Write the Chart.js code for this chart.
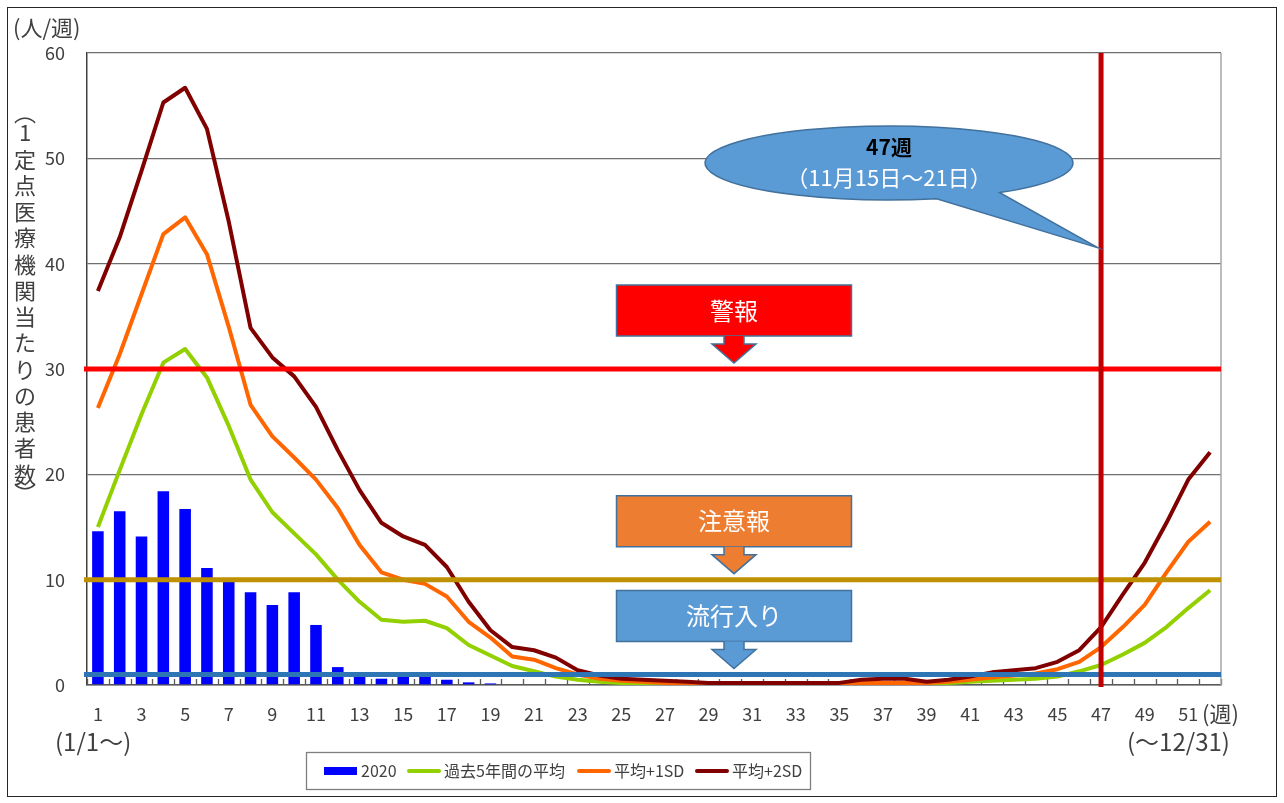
<!DOCTYPE html>
<html>
<head>
<meta charset="utf-8">
<script src="https://cdn.jsdelivr.net/npm/chart.js@4"></script>
<style>
  html, body { margin: 0; padding: 0; background: #fff; }
  #c { display: block; }
</style>
</head>
<body>
<canvas id="c" width="1284" height="803"></canvas>
<script>
// weeks 1..52
const weeks = Array.from({ length: 52 }, (_, i) => String(i + 1));

// 2020 weekly cases per sentinel (up to week 47)
const cases2020 = [14.6, 16.5, 14.1, 18.4, 16.7, 11.1, 9.9, 8.8, 7.6, 8.8,
  5.7, 1.7, 0.9, 0.6, 1.0, 1.0, 0.5, 0.25, 0.15, 0, 0, 0, 0, 0, 0, 0, 0, 0, 0, 0,
  0, 0, 0, 0, 0, 0, 0, 0, 0, 0, 0, 0, 0, 0, 0, 0, 0, null, null, null, null, null];

// past 5 year average
const avg5y = [15.0, 20.4, 25.7, 30.6, 31.9, 29.2, 24.6, 19.5, 16.4, 14.4,
  12.4, 10.0, 7.9, 6.2, 6.0, 6.1, 5.4, 3.8, 2.8, 1.8, 1.3, 0.8, 0.5, 0.3, 0.2,
  0.1, 0.1, 0.1, 0.1, 0.1, 0.1, 0.1, 0.1, 0.1, 0.1, 0.1, 0.1, 0.1, 0.1, 0.2,
  0.3, 0.4, 0.5, 0.6, 0.8, 1.3, 1.9, 2.9, 4.0, 5.5, 7.3, 9.0];

// average + 1SD
const avgPlus1 = [26.3, 31.4, 37.1, 42.8, 44.4, 40.9, 34.0, 26.6, 23.6, 21.6,
  19.5, 16.8, 13.3, 10.7, 10.0, 9.6, 8.4, 6.0, 4.5, 2.7, 2.4, 1.6, 1.0, 0.6, 0.4,
  0.3, 0.2, 0.2, 0.2, 0.2, 0.2, 0.2, 0.2, 0.2, 0.2, 0.2, 0.2, 0.2, 0.2, 0.3,
  0.5, 0.7, 0.9, 1.1, 1.5, 2.2, 3.6, 5.5, 7.6, 10.7, 13.6, 15.5];

// average + 2SD
const avgPlus2 = [37.4, 42.5, 48.8, 55.3, 56.7, 52.8, 44.0, 33.9, 31.1, 29.3,
  26.4, 22.3, 18.5, 15.4, 14.1, 13.3, 11.2, 7.9, 5.2, 3.6, 3.3, 2.6, 1.4, 0.9, 0.6,
  0.5, 0.4, 0.3, 0.2, 0.2, 0.2, 0.2, 0.2, 0.2, 0.2, 0.5, 0.6, 0.6, 0.3, 0.5,
  0.8, 1.2, 1.4, 1.6, 2.2, 3.3, 5.5, 8.6, 11.6, 15.4, 19.5, 22.1];

// thresholds
const alarmLevel = 30;     // 警報
const cautionLevel = 10;   // 注意報
const epidemicLevel = 1;   // 流行入り
const currentWeek = '47';

const FONT = '"Noto Sans CJK JP", "Noto Sans", sans-serif';
const TXT = '#404040';

const overlay = {
  id: 'overlay',
  beforeDatasetsDraw(chart) {
    const { ctx, chartArea: a, scales: { x } } = chart;
    ctx.save();
    // small inner tick marks between categories
    ctx.strokeStyle = '#595959';
    ctx.lineWidth = 1.3;
    for (let i = 0; i <= weeks.length; i++) {
      const px = i === 0 ? a.left :
        i === weeks.length ? a.right :
        (x.getPixelForValue(i - 1) + x.getPixelForValue(i)) / 2;
      ctx.beginPath();
      ctx.moveTo(Math.round(px) + 0.5, a.bottom);
      ctx.lineTo(Math.round(px) + 0.5, a.bottom - 6);
      ctx.stroke();
    }
    ctx.restore();
  },
  afterDatasetsDraw(chart) {
    const { ctx, chartArea: a, scales: { x, y } } = chart;
    ctx.save();
    // right border of plot
    ctx.strokeStyle = '#a6a6a6';
    ctx.lineWidth = 1.5;
    ctx.beginPath();
    ctx.moveTo(a.right, a.top);
    ctx.lineTo(a.right, a.bottom);
    ctx.stroke();

    // threshold lines
    const hline = (v, color) => {
      const py = y.getPixelForValue(v);
      ctx.strokeStyle = color;
      ctx.lineWidth = 5;
      ctx.beginPath();
      ctx.moveTo(a.left - 3, py);
      ctx.lineTo(a.right, py);
      ctx.stroke();
    };
    hline(alarmLevel, '#ff0000');
    hline(cautionLevel, '#bf9000');
    hline(epidemicLevel, '#2e75b6');

    // current week marker
    const wx = x.getPixelForValue(weeks.indexOf(currentWeek));
    ctx.strokeStyle = '#c00000';
    ctx.lineWidth = 5;
    ctx.beginPath();
    ctx.moveTo(wx, a.top);
    ctx.lineTo(wx, a.bottom + 2);
    ctx.stroke();

    // labelled boxes with down arrows
    const box = (v, fill, text) => {
      const py = y.getPixelForValue(v);
      const cx = 734, w = 235;
      const bottom = py - 33, top = py - 84;
      ctx.fillStyle = fill;
      ctx.strokeStyle = '#41719c';
      ctx.lineWidth = 1.5;
      ctx.beginPath();
      ctx.rect(cx - w / 2, top, w, bottom - top);
      ctx.fill();
      ctx.stroke();
      ctx.beginPath();
      ctx.moveTo(cx - 10, bottom);
      ctx.lineTo(cx - 10, bottom + 8);
      ctx.lineTo(cx - 22, bottom + 8);
      ctx.lineTo(cx, py - 6);
      ctx.lineTo(cx + 22, bottom + 8);
      ctx.lineTo(cx + 10, bottom + 8);
      ctx.lineTo(cx + 10, bottom);
      ctx.fill();
      ctx.stroke();
      ctx.fillStyle = '#ffffff';
      ctx.font = '24px ' + FONT;
      ctx.textAlign = 'center';
      ctx.textBaseline = 'middle';
      ctx.fillText(text, cx, (top + bottom) / 2);
    };
    box(alarmLevel, '#ff0000', '警報');
    box(cautionLevel, '#ed7d31', '注意報');
    box(epidemicLevel, '#5b9bd5', '流行入り');

    // callout bubble
    const ecx = 889, ecy = 163, rx = 184, ry = 37;
    const t1 = 75 * Math.PI / 180, t2 = 53 * Math.PI / 180;
    const tipX = wx - 3, tipY = y.getPixelForValue(41.5);
    ctx.beginPath();
    ctx.ellipse(ecx, ecy, rx, ry, 0, t1, t2 + Math.PI * 2, false);
    ctx.lineTo(tipX, tipY);
    ctx.closePath();
    ctx.fillStyle = '#5b9bd5';
    ctx.fill();
    ctx.strokeStyle = '#41719c';
    ctx.lineWidth = 1.5;
    ctx.stroke();
    ctx.textAlign = 'center';
    ctx.textBaseline = 'middle';
    ctx.fillStyle = '#000000';
    ctx.font = 'bold 21px ' + FONT;
    ctx.fillText('47週', ecx, 147);
    ctx.fillStyle = '#ffffff';
    ctx.font = '22px ' + FONT;
    ctx.fillText('（11月15日〜21日）', ecx, 178);
    ctx.restore();
  },
  afterDraw(chart) {
    const { ctx } = chart;
    ctx.save();
    // outer frame
    ctx.strokeStyle = '#262626';
    ctx.lineWidth = 1;
    ctx.strokeRect(7.5, 7.5, 1269, 789);

    ctx.fillStyle = TXT;
    ctx.textBaseline = 'middle';
    ctx.font = '22px ' + FONT;
    ctx.textAlign = 'left';
    ctx.fillText('(人/週)', 13, 28);
    ctx.fillText('(週)', 1202, 714);
    ctx.font = '24px ' + FONT;
    ctx.fillText('(1/1〜)', 55, 742);
    ctx.fillText('(〜12/31)', 1127, 742);

    // vertical y-axis title
    ctx.textAlign = 'center';
    ctx.font = '22px ' + FONT;
    const chars = ['︵', '1', '定', '点', '医', '療', '機', '関', '当', 'た', 'り', 'の', '患', '者', '数', '︶'];
    chars.forEach((ch, i) => {
      let py = 133 + (i - 1) * 26.25;
      if (i === 0) py = 113;
      if (i === chars.length - 1) py = 494;
      ctx.fillText(ch, 25, py);
    });

    // legend
    ctx.strokeStyle = '#7f7f7f';
    ctx.lineWidth = 1.3;
    ctx.strokeRect(306.5, 752.5, 504, 37);
    const legendX = [324, 407, 577, 695];
    const ly = 771;
    ctx.font = '16px ' + FONT;
    ctx.textAlign = 'left';
    chart.data.datasets.forEach((ds, i) => {
      const lx = legendX[i];
      if (ds.type === 'bar') {
        ctx.fillStyle = ds.backgroundColor;
        ctx.fillRect(lx, ly - 4, 33, 8);
      } else {
        ctx.strokeStyle = ds.borderColor;
        ctx.lineWidth = 4;
        ctx.lineCap = 'round';
        ctx.beginPath();
        ctx.moveTo(lx + 2, ly);
        ctx.lineTo(lx + 32, ly);
        ctx.stroke();
      }
      ctx.fillStyle = TXT;
      ctx.fillText(ds.label, lx + 37, ly);
    });
    ctx.restore();
  }
};

new Chart(document.getElementById('c'), {
  data: {
    labels: weeks,
    datasets: [
      {
        type: 'bar',
        label: '2020',
        data: cases2020,
        backgroundColor: '#0000ff',
        barPercentage: 0.53,
        categoryPercentage: 1,
        order: 4,
      },
      {
        type: 'line',
        label: '過去5年間の平均',
        data: avg5y,
        borderColor: '#92d000',
        borderWidth: 4,
        pointRadius: 0,
        tension: 0,
        borderJoinStyle: 'round',
        order: 3,
      },
      {
        type: 'line',
        label: '平均+1SD',
        data: avgPlus1,
        borderColor: '#ff6600',
        borderWidth: 4,
        pointRadius: 0,
        tension: 0,
        borderJoinStyle: 'round',
        order: 2,
      },
      {
        type: 'line',
        label: '平均+2SD',
        data: avgPlus2,
        borderColor: '#800000',
        borderWidth: 4,
        pointRadius: 0,
        tension: 0,
        borderJoinStyle: 'round',
        order: 1,
      },
    ],
  },
  options: {
    responsive: false,
    animation: false,
    devicePixelRatio: 1,
    layout: { padding: { top: 53, right: 63, bottom: 0, left: 0 } },
    plugins: {
      legend: { display: false },
      tooltip: { enabled: false },
    },
    scales: {
      x: {
        type: 'category',
        offset: true,
        grid: { display: false, drawTicks: false },
        border: { display: true, color: '#595959', width: 1.5 },
        ticks: {
          autoSkip: false,
          maxRotation: 0,
          padding: 18,
          color: TXT,
          font: { size: 18, family: FONT },
          callback: (v, i) => (i % 2 === 0 ? weeks[i] : ''),
        },
        afterFit: (s) => { s.height = 118; },
      },
      y: {
        min: 0,
        max: 60,
        ticks: {
          stepSize: 10,
          padding: 22,
          color: TXT,
          font: { size: 18, family: FONT },
        },
        grid: { color: '#6f6f6f', lineWidth: 1.3, drawTicks: false },
        border: { display: true, color: '#404040', width: 1.5 },
        afterFit: (s) => { s.width = 87; },
      },
    },
  },
  plugins: [overlay],
});
</script>
</body>
</html>
